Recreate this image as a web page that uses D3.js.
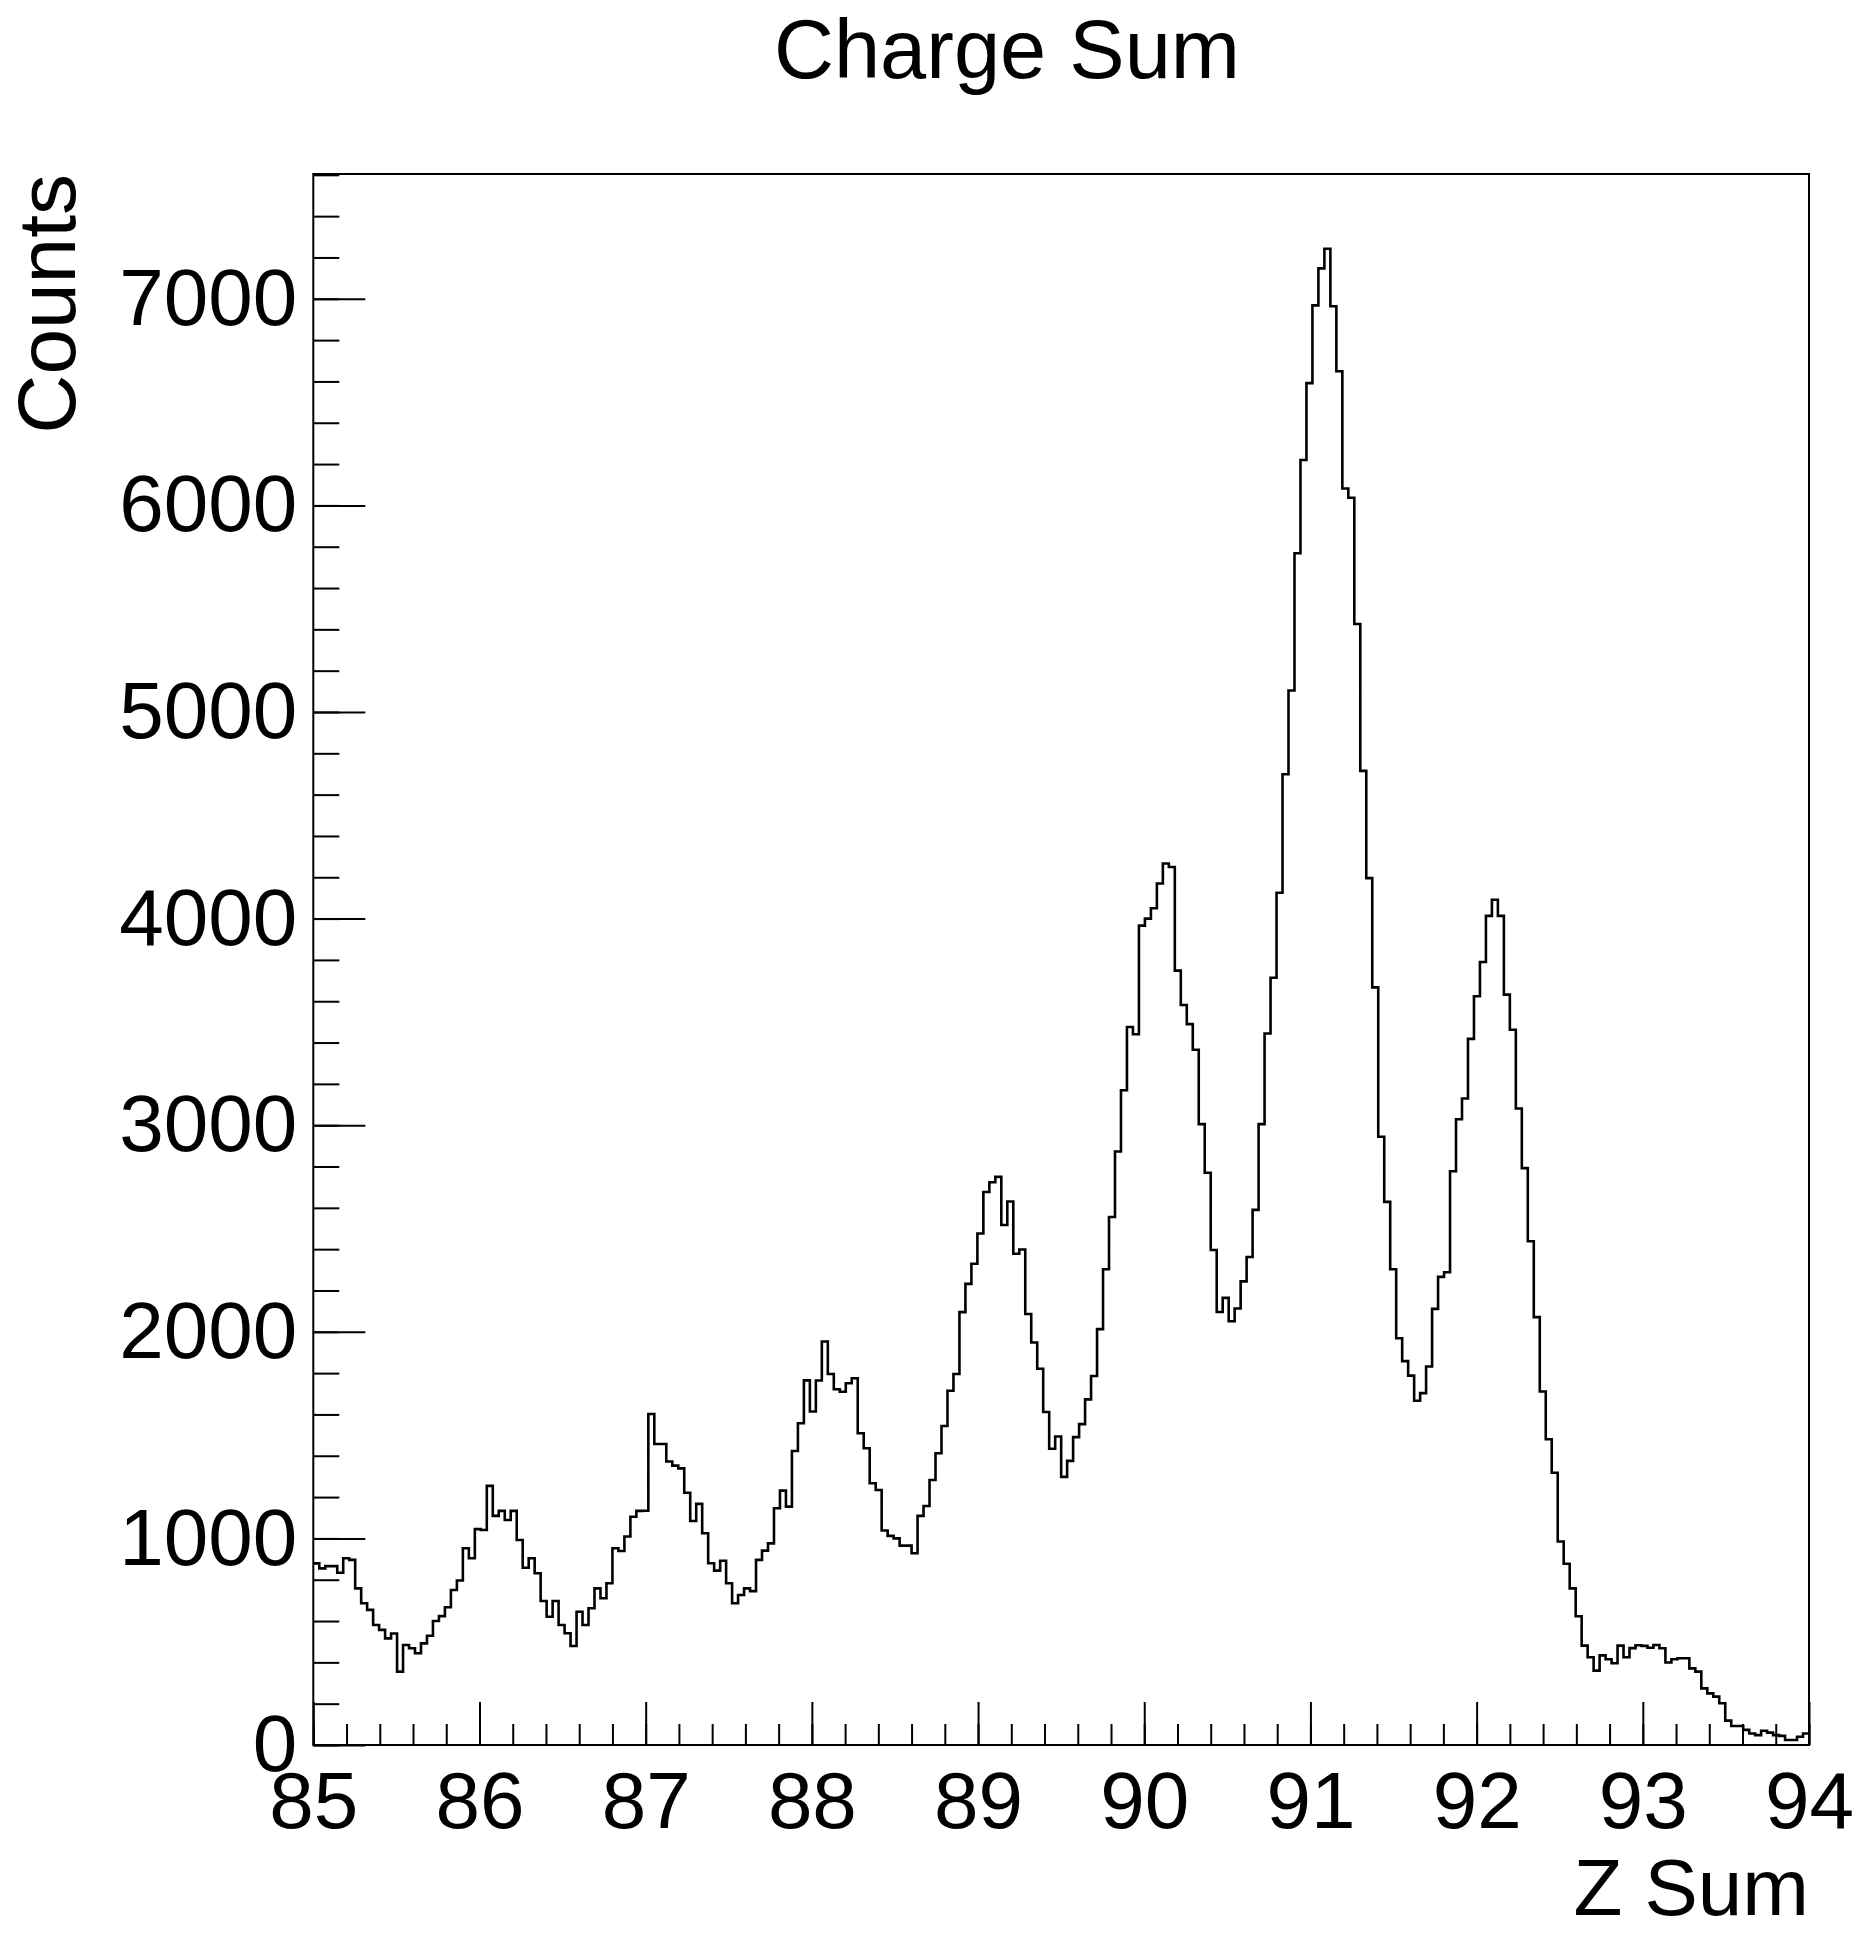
<!DOCTYPE html>
<html>
<head>
<meta charset="utf-8">
<title>Charge Sum</title>
<script src="https://cdn.jsdelivr.net/npm/d3@7"></script>
<style>
  body { margin: 0; background: #fff; }
  text { font-family: "Liberation Sans", Arial, Helvetica, sans-serif; fill: #000; }
</style>
</head>
<body>
<div id="chart"></div>
<script>
// histogram range + bin contents (250 bins, 85 -> 94)
const zRange = [85, 94]
const counts = [
  879, 855, 866, 866, 834, 904, 896, 758, 686, 654,
  581, 557, 516, 540, 355, 484, 468, 444, 492, 529,
  600, 624, 667, 750, 796, 952, 904, 1045, 1041, 1254,
  1109, 1133, 1089, 1133, 992, 858, 904, 831, 697, 621,
  697, 581, 541, 479, 645, 581, 662, 758, 710, 783,
  952, 939, 1009, 1105, 1133, 1134, 1602, 1457, 1457, 1372,
  1352, 1339, 1221, 1084, 1167, 1025, 880, 844, 892, 783,
  686, 726, 758, 745, 896, 941, 976, 1146, 1231, 1154,
  1423, 1557, 1765, 1614, 1764, 1953, 1796, 1722, 1710, 1751,
  1775, 1509, 1436, 1267, 1234, 1038, 1012, 1000, 965, 965,
  928, 1109, 1157, 1283, 1412, 1544, 1715, 1796, 2095, 2232,
  2329, 2476, 2677, 2724, 2750, 2517, 2631, 2378, 2398, 2086,
  1948, 1821, 1612, 1434, 1493, 1298, 1375, 1490, 1553, 1673,
  1786, 2013, 2303, 2556, 2873, 3169, 3475, 3440, 3966, 4000,
  4050, 4170, 4267, 4250, 3748, 3582, 3489, 3365, 3005, 2770,
  2396, 2096, 2164, 2051, 2113, 2244, 2362, 2590, 3005, 3444,
  3714, 4125, 4699, 5104, 5768, 6220, 6592, 6968, 7147, 7242,
  6964, 6649, 6082, 6037, 5426, 4715, 4196, 3667, 2944, 2629,
  2303, 1969, 1858, 1788, 1666, 1703, 1832, 2111, 2266, 2288,
  2777, 3029, 3129, 3418, 3624, 3790, 4013, 4091, 4013, 3632,
  3462, 3081, 2792, 2438, 2071, 1711, 1480, 1318, 985, 877,
  758, 623, 481, 425, 360, 434, 415, 396, 481, 425,
  469, 483, 480, 471, 484, 468, 399, 415, 420, 420,
  371, 355, 274, 250, 234, 202, 118, 92, 92, 73,
  56, 48, 69, 60, 48, 44, 24, 24, 40, 56
]
const xTicks = [85, 86, 87, 88, 89, 90, 91, 92, 93, 94]
const yTicks = [0, 1000, 2000, 3000, 4000, 5000, 6000, 7000]
const yMax = 7604

const titleText = "Charge Sum"
const xTitle = "Z Sum"
const yTitle = "Counts"

const width = 1856, height = 1937
const frame = { left: 313.3, right: 1809, top: 174, bottom: 1745 }
const fontSize = 80

const svg = d3.select("#chart")
  .append("svg")
  .attr("width", width)
  .attr("height", height)

const xScale = d3.scaleLinear().domain(zRange).range([frame.left, frame.right])
const yScale = d3.scaleLinear().domain([0, yMax]).range([frame.bottom, frame.top])

// minor ticks every 0.2 on x, every 200 on y
const xMinor = d3.range(zRange[0] * 5, zRange[1] * 5 + 1).map(d => d / 5)
const yMinor = d3.range(0, yMax, 200)

// X axis
svg.append("g")
  .attr("transform", `translate(0,${frame.bottom})`)
  .call(d3.axisBottom(xScale).tickValues(xMinor).tickSize(-21).tickSizeOuter(0).tickFormat(""))
  .call(g => g.select(".domain").remove())

svg.append("g")
  .attr("class", "x-axis")
  .attr("transform", `translate(0,${frame.bottom})`)
  .call(d3.axisBottom(xScale).tickValues(xTicks).tickSize(-43).tickSizeOuter(0).tickPadding(26).tickFormat(d3.format("d")))
  .call(g => g.select(".domain").remove())

// Y axis
svg.append("g")
  .attr("transform", `translate(${frame.left},0)`)
  .call(d3.axisLeft(yScale).tickValues(yMinor).tickSize(-26).tickSizeOuter(0).tickFormat(""))
  .call(g => g.select(".domain").remove())

svg.append("g")
  .attr("class", "y-axis")
  .attr("transform", `translate(${frame.left},0)`)
  .call(d3.axisLeft(yScale).tickValues(yTicks).tickSize(-52).tickSizeOuter(0).tickPadding(16).tickFormat(d3.format("d")))
  .call(g => g.select(".domain").remove())

svg.selectAll(".tick line").attr("stroke", "#000").attr("stroke-width", 2)
svg.selectAll(".tick text")
  .attr("font-size", fontSize)
  .attr("font-family", "Liberation Sans, Arial, sans-serif")
  .attr("fill", "#000")

// histogram outline
const binWidth = (zRange[1] - zRange[0]) / counts.length
const steps = counts.map((c, i) => [zRange[0] + i * binWidth, c])
steps.push([zRange[1], counts[counts.length - 1]])

const stepLine = d3.line()
  .x(d => xScale(d[0]))
  .y(d => yScale(d[1]))
  .curve(d3.curveStepAfter)

svg.append("path")
  .datum(steps)
  .attr("d", stepLine)
  .attr("fill", "none")
  .attr("stroke", "#000")
  .attr("stroke-width", 2.6)

// frame
svg.append("rect")
  .attr("x", frame.left)
  .attr("y", frame.top)
  .attr("width", frame.right - frame.left)
  .attr("height", frame.bottom - frame.top)
  .attr("fill", "none")
  .attr("stroke", "#000")
  .attr("stroke-width", 2)

// titles
svg.append("text")
  .attr("x", 1007)
  .attr("y", 78)
  .attr("text-anchor", "middle")
  .attr("font-size", 83)
  .text(titleText)

svg.append("text")
  .attr("x", frame.right)
  .attr("y", 1915)
  .attr("text-anchor", "end")
  .attr("font-size", fontSize)
  .text(xTitle)

svg.append("text")
  .attr("transform", `translate(75,${frame.top}) rotate(-90)`)
  .attr("text-anchor", "end")
  .attr("font-size", 82)
  .text(yTitle)
</script>
</body>
</html>
